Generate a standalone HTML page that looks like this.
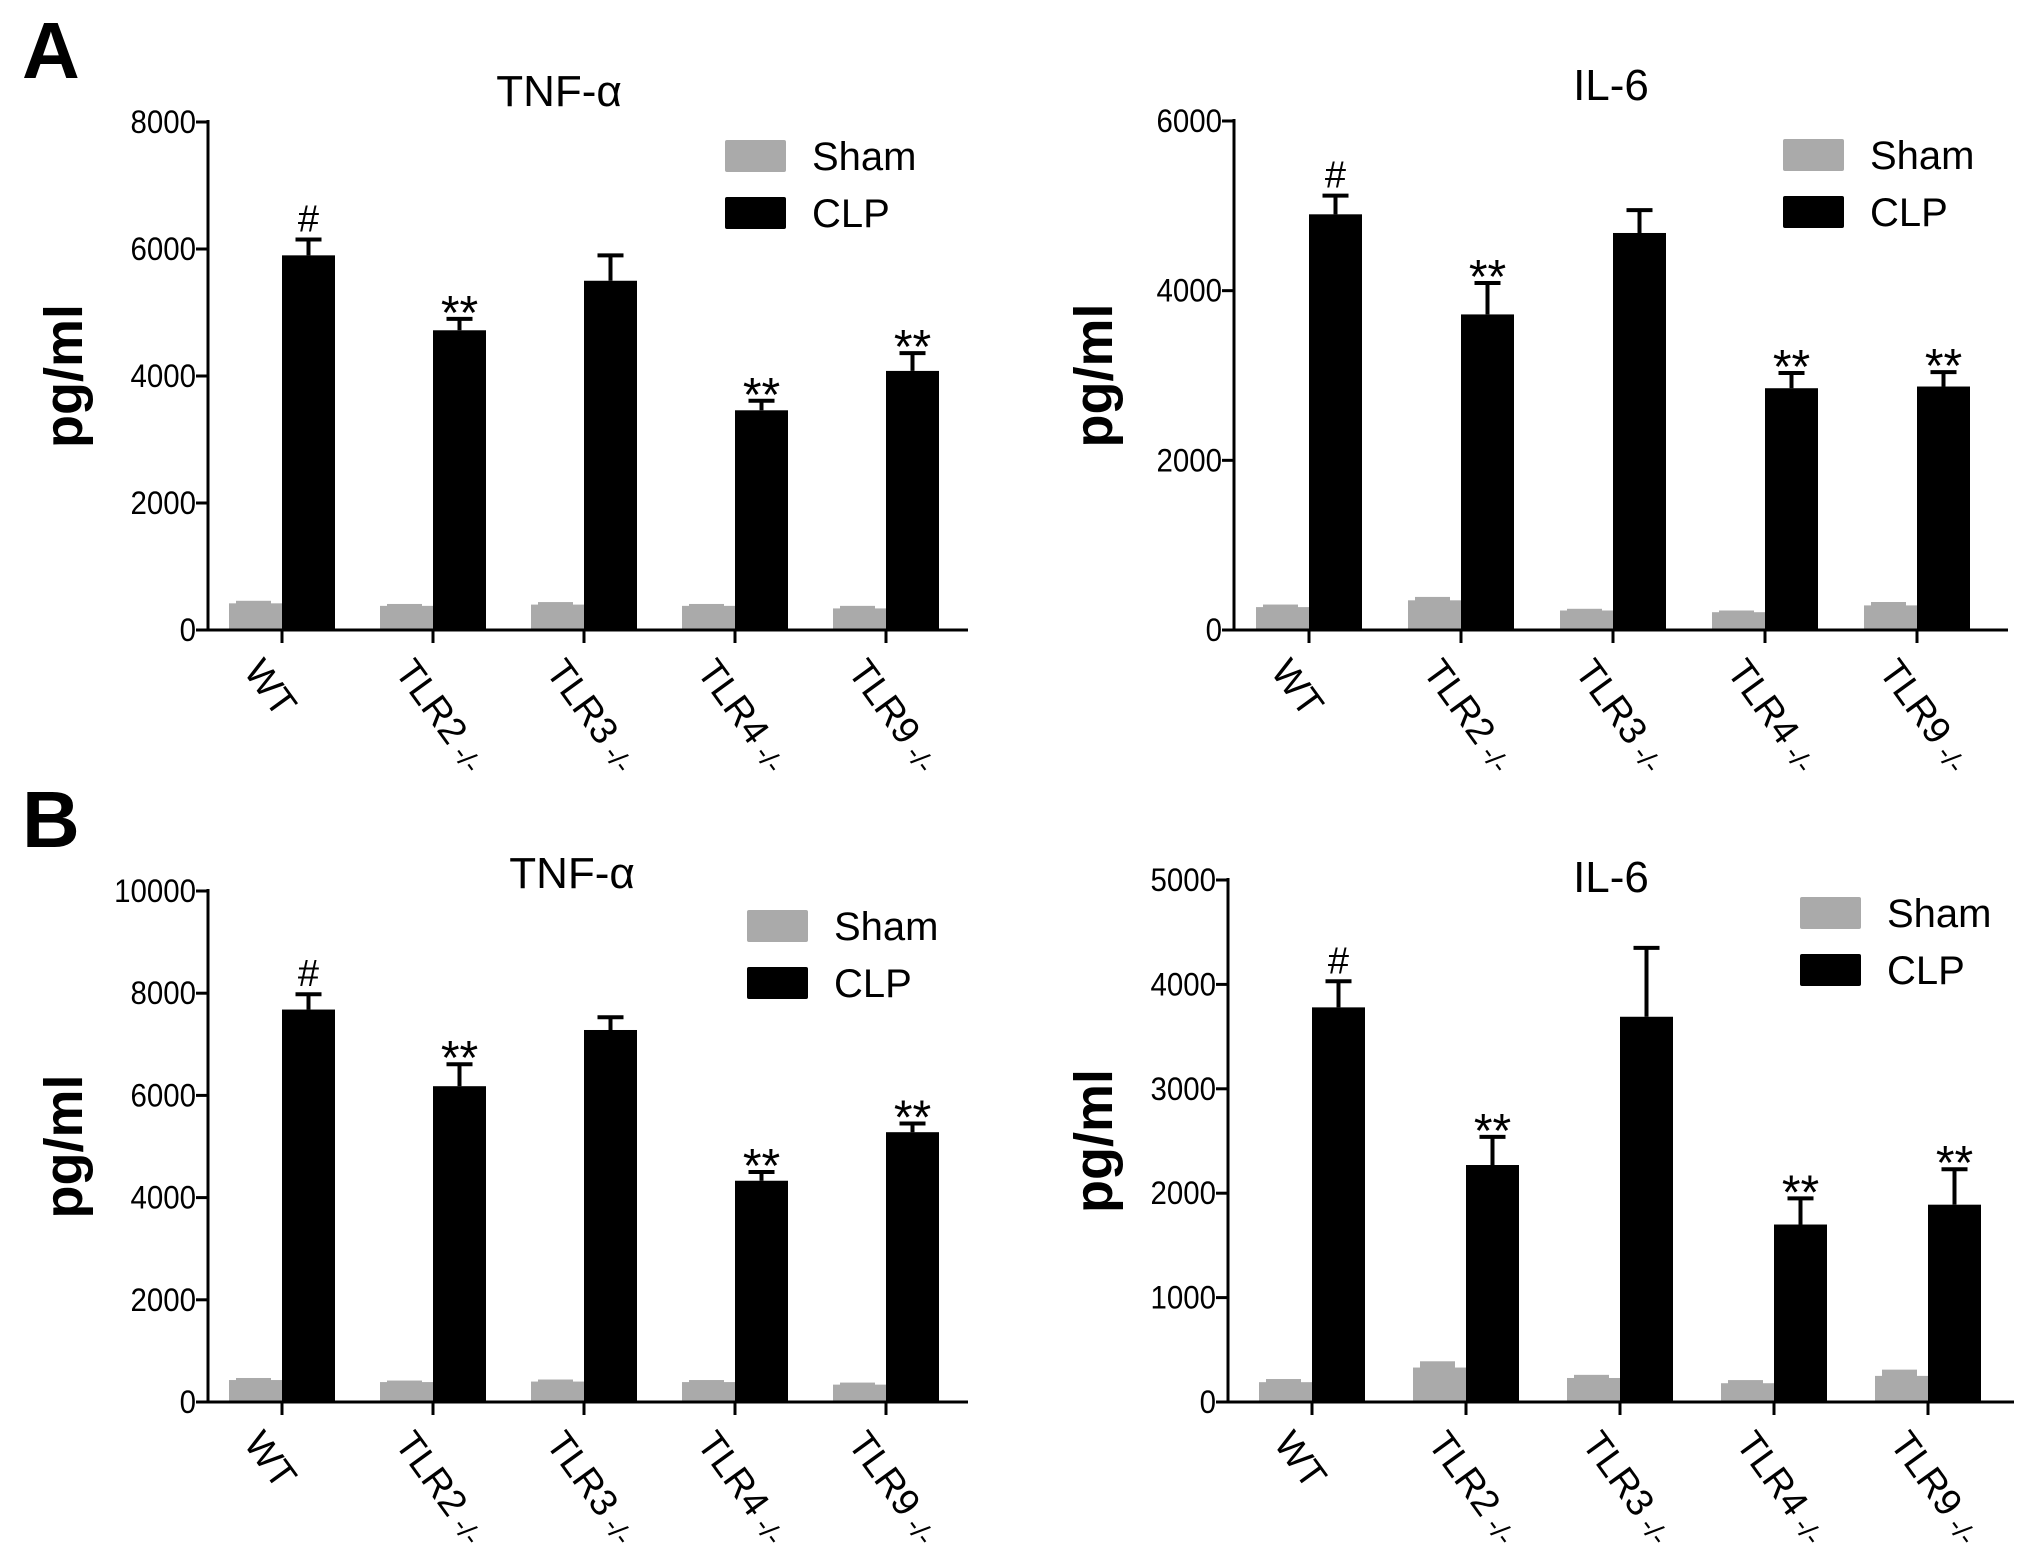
<!DOCTYPE html>
<html><head><meta charset="utf-8"><style>
html,body{margin:0;padding:0;background:#fff;}
svg{display:block;font-family:"Liberation Sans",Arial,sans-serif;}
</style></head><body>
<svg id="fig" width="2031" height="1553" viewBox="0 0 2031 1553" xmlns="http://www.w3.org/2000/svg">
<text x="22" y="78" font-size="80" font-weight="bold">A</text>
<text x="22" y="847" font-size="80" font-weight="bold">B</text>
</svg>
<script>
const categories = ["WT","TLR2","TLR3","TLR4","TLR9"];
const aTnfClp = [5900,4720,5500,3460,4080];
const aTnfClpErr = [250,180,400,150,280];
const aTnfSham = [420,380,400,380,340];
const aTnfShamErr = [40,30,40,30,40];
const aIl6Clp = [4900,3720,4680,2850,2870];
const aIl6ClpErr = [220,370,270,180,170];
const aIl6Sham = [270,350,230,210,290];
const aIl6ShamErr = [30,40,20,20,40];
const bTnfClp = [7680,6180,7280,4330,5280];
const bTnfClpErr = [300,430,250,170,170];
const bTnfSham = [430,390,400,390,340];
const bTnfShamErr = [40,30,40,40,40];
const bIl6Clp = [3780,2270,3690,1700,1890];
const bIl6ClpErr = [250,270,660,250,340];
const bIl6Sham = [190,330,230,180,250];
const bIl6ShamErr = [30,60,30,30,60];
const marks = ["#","**","","**","**"];
const tnfATicks = [0,2000,4000,6000,8000];
const il6ATicks = [0,2000,4000,6000];
const tnfBTicks = [0,2000,4000,6000,8000,10000];
const il6BTicks = [0,1000,2000,3000,4000,5000];

const NS="http://www.w3.org/2000/svg";
const svg=document.getElementById('fig');
function mk(tag,attrs,parent){const e=document.createElementNS(NS,tag);for(const k in attrs)e.setAttribute(k,attrs[k]);(parent||svg).appendChild(e);return e;}

function panel(p){
  const g=mk('g',{});
  
  
  const ymax=p.ticks[p.ticks.length-1];
  const y=v=>p.y0-(v/ymax)*(p.y0-p.y1);
  const x=i=>p.x1+i*p.step;
  const bw=53;
  categories.forEach((c,i)=>{
    const tx=x(i);
    const sv=p.sham[i], se=p.shamErr[i];
    const sb=mk('rect',{x:tx-bw+7,y:y(sv+se),width:bw-18,height:y(0)-y(sv+se),fill:'#aaaaaa'},g);
    
    
    const s=mk('rect',{x:tx-bw,y:y(sv),width:bw,height:y(0)-y(sv),fill:'#aaaaaa'},g);
    
    
    const cv=p.clp[i], ce=p.clpErr[i];
    const el=mk('path',{d:`M${tx+bw/2} ${y(cv)} V${y(cv+ce)} M${tx+bw/2-13} ${y(cv+ce)} H${tx+bw/2+13}`,stroke:'#000','stroke-width':4,fill:'none'},g);
    
    
    const b=mk('rect',{x:tx,y:y(cv),width:bw,height:y(0)-y(cv),fill:'#000'},g);
    
    
    if(marks[i]){
      const m=mk('text',{x:tx+bw/2,y:y(cv+ce)-(marks[i]=='#'?8:-10),'font-size':marks[i]=='#'?38:48,'text-anchor':'middle'},g);
      m.textContent=marks[i];
      
      
    }
    mk('line',{x1:tx,x2:tx,y1:p.y0,y2:p.y0+13,stroke:'#000','stroke-width':3},g);
    const lx=tx-18, ly=p.y0+26;
    const t=mk('text',{x:lx,y:ly,'font-size':38,transform:`rotate(54 ${lx} ${ly})`,'dominant-baseline':'hanging'},g);
    
    
    t.textContent=c;
    if(c!=='WT'){const sp=mk('tspan',{'font-size':28,dy:8},t);sp.textContent=' -/-';}
  });
  mk('line',{x1:p.ax,x2:p.ax,y1:p.y1-2,y2:p.y0+1,stroke:'#000','stroke-width':3},g);
  mk('line',{x1:p.ax,x2:p.xend,y1:p.y0,y2:p.y0,stroke:'#000','stroke-width':3},g);
  p.ticks.forEach(v=>{
    mk('line',{x1:p.ax-12,x2:p.ax,y1:y(v),y2:y(v),stroke:'#000','stroke-width':3},g);
    const t=mk('text',{x:p.ax-12,y:y(v)+11,'font-size':32,'text-anchor':'end',transform:`translate(${p.ax-12} 0) scale(0.92 1) translate(${-(p.ax-12)} 0)`},g);
    t.textContent=v;
    
    
  });
  const yl=mk('text',{x:p.ylx,y:(p.y0+p.y1)/2,'font-size':54,'font-weight':'bold','text-anchor':'middle',transform:`rotate(-90 ${p.ylx} ${(p.y0+p.y1)/2})`},g);
  yl.textContent='pg/ml';
  
  
  const ti=mk('text',{x:p.tx,y:p.ty,'font-size':44,'text-anchor':'middle'},g);
  ti.textContent=p.title;
  
  
  [['Sham','#aaaaaa',0],['CLP','#000',57]].forEach(([n,col,dy])=>{
    const r=mk('rect',{x:p.lgx,y:p.lgy+dy,width:61,height:32,fill:col,rx:2},g);
    
    
    const t=mk('text',{x:p.lgx+87,y:p.lgy+dy+30,'font-size':40},g);
    t.textContent=n;
    
    
  });
}
panel({id:'chart-a-tnf',ax:208,x1:282,step:151,xend:968,y0:630,y1:122,ticks:tnfATicks,clp:aTnfClp,clpErr:aTnfClpErr,sham:aTnfSham,shamErr:aTnfShamErr,ylx:82,tx:559,ty:106,title:'TNF-α',lgx:725,lgy:140});
panel({id:'chart-a-il6',ax:1234,x1:1309,step:152,xend:2008,y0:630,y1:121,ticks:il6ATicks,clp:aIl6Clp,clpErr:aIl6ClpErr,sham:aIl6Sham,shamErr:aIl6ShamErr,ylx:1112,tx:1611,ty:100,title:'IL-6',lgx:1783,lgy:139});
panel({id:'chart-b-tnf',ax:208,x1:282,step:151,xend:968,y0:1402,y1:891,ticks:tnfBTicks,clp:bTnfClp,clpErr:bTnfClpErr,sham:bTnfSham,shamErr:bTnfShamErr,ylx:82,tx:572,ty:888,title:'TNF-α',lgx:747,lgy:910});
panel({id:'chart-b-il6',ax:1228,x1:1312,step:154,xend:2014,y0:1402,y1:880,ticks:il6BTicks,clp:bIl6Clp,clpErr:bIl6ClpErr,sham:bIl6Sham,shamErr:bIl6ShamErr,ylx:1112,tx:1611,ty:892,title:'IL-6',lgx:1800,lgy:897});
</script>
</body></html>
